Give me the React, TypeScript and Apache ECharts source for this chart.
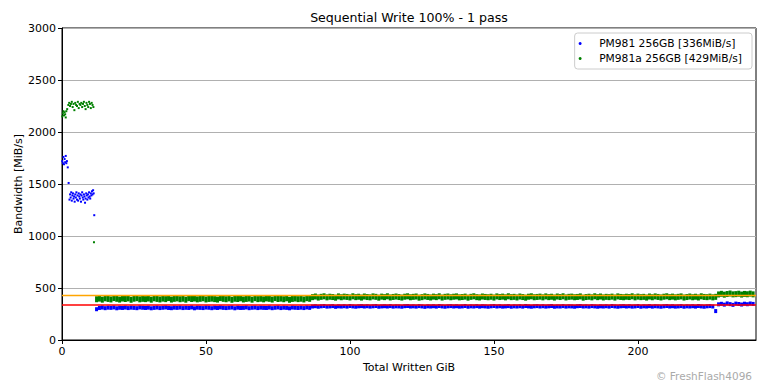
import React, { useEffect, useRef } from "react";
import * as echarts from "echarts";

const titleText = "Sequential Write 100% - 1 pass";
const seriesNames = ["PM981 256GB [336MiB/s]", "PM981a 256GB [429MiB/s]"];
const averages = [336, 429];
const xTicks = { min: 0, max: 241, interval: 50 };
const yTicks = { min: 0, max: 3000, interval: 500 };

// PM981 burst phase (GiB, MiB/s)
const burst981X = [0.1, 0.3, 0.5, 0.7, 0.9, 1.1, 1.3, 1.5, 1.7, 2.0, 2.3,
  2.6, 2.8, 3.0, 3.2, 3.4, 3.6, 3.8, 4.0, 4.2, 4.4, 4.6, 4.8, 5.0, 5.2, 5.4, 5.6, 5.8, 6.0, 6.2, 6.4,
  6.6, 6.8, 7.0, 7.2, 7.4, 7.6, 7.8, 8.0, 8.2, 8.4, 8.6, 8.8, 9.0, 9.2, 9.4, 9.6, 9.8, 10.0, 10.2,
  10.4, 10.6, 10.8, 11.0, 11.2];
const burst981Y = [1720, 1700, 1760, 1690, 1740, 1710, 1770, 1700, 1720, 1660, 1510,
  1350, 1400, 1370, 1420, 1340, 1390, 1410, 1360, 1380, 1330, 1400, 1370, 1420, 1350, 1390, 1340, 1410, 1380, 1360, 1400,
  1330, 1390, 1420, 1370, 1350, 1400, 1380, 1320, 1360, 1410, 1390, 1350, 1400, 1370, 1420, 1380, 1360, 1410, 1390,
  1430, 1400, 1440, 1410, 1200];

// PM981a burst phase
const burst981aX = [0.1, 0.3, 0.5, 0.7, 0.9, 1.1, 1.3, 1.5, 1.8,
  2.2, 2.5, 2.8, 3.1, 3.4, 3.7, 4.0, 4.3, 4.6, 4.9, 5.2, 5.5, 5.8, 6.1, 6.4, 6.7, 7.0, 7.3, 7.6, 7.9,
  8.2, 8.5, 8.8, 9.1, 9.4, 9.7, 10.0, 10.3, 10.6, 10.9, 11.1];
const burst981aY = [2150, 2180, 2200, 2160, 2190, 2170, 2140, 2200, 2220,
  2260, 2280, 2250, 2270, 2290, 2240, 2270, 2210, 2280, 2260, 2250, 2290, 2230, 2270, 2260, 2280, 2240, 2270, 2290, 2250,
  2220, 2280, 2260, 2240, 2290, 2270, 2230, 2280, 2260, 2240, 940];

// Steady state, one value per GiB
const steadyStartA = 12;
const steadyStartB = 87;
const steadyStartC = 228;

const steady981A = [
  296, 308, 312, 306, 311, 309, 313, 305, 310, 308,
  312, 307, 311, 309, 306, 313, 310, 308, 311, 305,
  309, 312, 307, 310, 313, 308, 306, 311, 309, 312,
  307, 310, 308, 313, 305, 311, 309, 307, 312, 310,
  306, 311, 308, 313, 309, 307, 310, 312, 305, 311,
  308, 309, 313, 306, 310, 312, 307, 311, 309, 308,
  312, 306, 310, 313, 307, 311, 309, 305, 312, 310,
  308, 311, 307, 313, 309];
const steady981B = [
  322, 325, 320, 324, 327, 321, 323, 326, 319, 324,
  322, 325, 321, 327, 323, 320, 324, 326, 322, 325,
  321, 324, 327, 320, 323, 325, 322, 326, 321, 324,
  323, 320, 325, 327, 322, 324, 321, 326, 323, 319,
  324, 322, 325, 321, 327, 323, 320, 324, 326, 322,
  325, 321, 323, 327, 320, 324, 322, 326, 321, 325,
  323, 320, 324, 327, 322, 325, 321, 323, 326, 320,
  324, 322, 325, 321, 327, 323, 320, 324, 326, 322,
  325, 321, 324, 327, 320, 323, 322, 326, 321, 324,
  323, 320, 325, 327, 322, 324, 321, 326, 323, 320,
  324, 322, 325, 321, 327, 323, 320, 324, 326, 322,
  325, 321, 323, 327, 320, 324, 322, 326, 321, 325,
  323, 320, 324, 327, 322, 325, 321, 323, 326, 320,
  324, 322, 325, 321, 327, 323, 320, 324, 326, 322,
  278];
const steady981C = [343, 348, 340, 352, 345, 338, 350, 346, 341, 349, 344, 351, 347];

const steady981aA = [
  392, 398, 388, 401, 395, 390, 403, 396, 389, 399,
  394, 400, 387, 397, 402, 391, 396, 393, 399, 388,
  401, 395, 390, 398, 393, 403, 389, 396, 400, 392,
  397, 388, 402, 394, 399, 391, 396, 401, 390, 395,
  398, 393, 389, 403, 396, 392, 400, 387, 397, 394,
  401, 390, 395, 399, 388, 402, 393, 397, 391, 400,
  396, 389, 403, 394, 398, 392, 401, 387, 395, 399,
  393, 397, 390, 402, 396];
const steady981aB = [
  412, 418, 408, 415, 420, 410, 416, 413, 407, 419,
  411, 417, 414, 409, 420, 412, 416, 408, 418, 413,
  410, 419, 415, 407, 417, 412, 420, 409, 414, 418,
  413, 408, 416, 420, 411, 415, 418, 407, 412, 419,
  414, 409, 417, 412, 420, 408, 415, 418, 411, 416,
  419, 410, 413, 417, 407, 415, 420, 412, 409, 418,
  414, 411, 416, 408, 419, 413, 417, 410, 420, 412,
  415, 409, 418, 413, 407, 416, 420, 411, 414, 417,
  410, 419, 412, 416, 408, 418, 413, 420, 409, 415,
  417, 411, 414, 419, 407, 413, 416, 410, 420, 412,
  418, 409, 415, 412, 417, 408, 419, 414, 411, 416,
  413, 420, 410, 417, 412, 415, 408, 418, 411, 419,
  414, 409, 416, 420, 412, 417, 410, 415, 419, 408,
  413, 418, 411, 416, 409, 420, 414, 412, 417, 410,
  415];
const steady981aC = [438, 444, 436, 442, 447, 439, 441, 445, 437, 443, 440, 446, 439];

const FONT = "DejaVu Sans";
const FS = 11;

function pairs(xs: number[], ys: number[]) {
  return xs.map((x, i) => [x, ys[i]]);
}
function steady(start: number, vals: number[]) {
  return vals.map((v, i) => [start + i, v]);
}

export default function App() {
  const ref = useRef<HTMLDivElement>(null);
  useEffect(() => {
    if (!ref.current) return;
    const chart = echarts.init(ref.current, undefined, { renderer: "svg" });
    const data981 = [
      ...pairs(burst981X, burst981Y),
      ...steady(steadyStartA, steady981A),
      ...steady(steadyStartB, steady981B),
      ...steady(steadyStartC, steady981C),
    ];
    const data981a = [
      ...pairs(burst981aX, burst981aY),
      ...steady(steadyStartA, steady981aA),
      ...steady(steadyStartB, steady981aB),
      ...steady(steadyStartC, steady981aC),
    ];
    chart.setOption({
      animation: false,
      backgroundColor: "#ffffff",
      grid: {
        left: 62,
        right: 12,
        top: 28,
        bottom: 44,
        show: true,
        borderColor: "#000000",
        borderWidth: 1,
        backgroundColor: "transparent",
        containLabel: false,
        outerBoundsMode: "none",
      },
      graphic: [
        {
          type: "text",
          x: 409,
          y: 17,
          style: {
            text: titleText,
            fontFamily: FONT,
            fontSize: 12.6,
            fill: "#000",
            textAlign: "center",
            textVerticalAlign: "middle",
          },
        },
        {
          type: "text",
          right: 16,
          bottom: 3,
          style: {
            text: "© FreshFlash4096",
            fontFamily: FONT,
            fontSize: 10.5,
            fill: "#aaaaaa",
          },
        },
      ],
      legend: {
        orient: "vertical",
        right: 16,
        top: 33,
        padding: [5, 10, 5, 4],
        itemGap: 4,
        itemWidth: 28,
        itemHeight: 3,
        borderColor: "#cccccc",
        borderWidth: 1,
        borderRadius: 3,
        backgroundColor: "rgba(255,255,255,0.8)",
        textStyle: { fontFamily: FONT, fontSize: 10.7, color: "#000" },
        data: seriesNames.map((n) => ({ name: n, icon: "circle" })),
      },
      xAxis: {
        type: "value",
        min: xTicks.min,
        max: xTicks.max,
        interval: xTicks.interval,
        name: "Total Written GiB",
        nameLocation: "middle",
        nameGap: 22,
        nameTextStyle: { fontFamily: FONT, fontSize: FS, color: "#000" },
        axisLine: { show: true, lineStyle: { color: "#000" } },
        axisTick: { show: true, length: 4, lineStyle: { color: "#000" } },
        axisLabel: { fontFamily: FONT, fontSize: FS, color: "#000", margin: 6, showMaxLabel: false },
        splitLine: { show: false },
      },
      yAxis: {
        type: "value",
        min: yTicks.min,
        max: yTicks.max,
        interval: yTicks.interval,
        name: "Bandwidth [MiB/s]",
        nameLocation: "middle",
        nameGap: 38,
        nameMoveOverlap: false,
        nameRotate: 90,
        nameTextStyle: { fontFamily: FONT, fontSize: FS, color: "#000" },
        axisLine: { show: true, lineStyle: { color: "#000" } },
        axisTick: { show: true, length: 4, lineStyle: { color: "#000" } },
        axisLabel: {
          fontFamily: FONT,
          fontSize: FS,
          color: "#000",
          margin: 6,
          formatter: (v: number) => String(v),
        },
        splitLine: { show: true, lineStyle: { color: "#b0b0b0", width: 1 } },
      },
      series: [
        {
          name: seriesNames[0],
          type: "scatter",
          data: data981,
          symbol: "rect",
          symbolSize: (v: number[]) => (v[0] >= 11.6 ? [3, 4] : 2),
          itemStyle: { color: "#0000ff", opacity: 1 },
          z: 3,
        },
        {
          name: seriesNames[1],
          type: "scatter",
          data: data981a,
          symbol: "rect",
          symbolSize: (v: number[]) => (v[0] >= 11.6 ? [3, 6] : 2),
          itemStyle: { color: "#008000", opacity: 1 },
          z: 3,
        },
        {
          name: "avg981",
          type: "line",
          data: [[xTicks.min, averages[0]], [xTicks.max, averages[0]]],
          symbol: "none",
          silent: true,
          lineStyle: { color: "#ff0000", width: 1.5 },
          itemStyle: { color: "#ff0000" },
          z: 5,
        },
        {
          name: "avg981a",
          type: "line",
          data: [[xTicks.min, averages[1]], [xTicks.max, averages[1]]],
          symbol: "none",
          silent: true,
          lineStyle: { color: "#ffa500", width: 1.5 },
          itemStyle: { color: "#ffa500" },
          z: 5,
        },
      ],
    });
    return () => chart.dispose();
  }, []);
  return (
    <div
      ref={ref}
      style={{ position: "fixed", left: 0, top: 0, width: 768, height: 384, background: "#fff" }}
    />
  );
}
